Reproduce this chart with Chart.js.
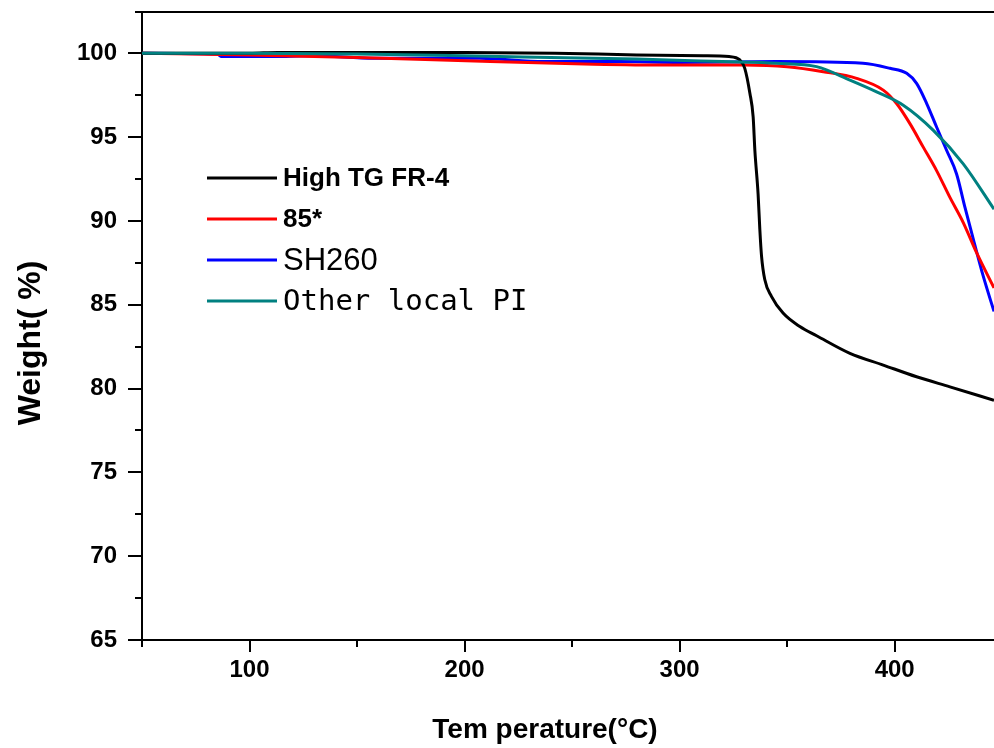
<!DOCTYPE html>
<html>
<head>
<meta charset="utf-8">
<script src="https://cdn.jsdelivr.net/npm/chart.js@4.4.1/dist/chart.umd.min.js"></script>
<style>
    html, body { margin: 0; padding: 0; background: #fff; overflow: hidden; }
    #wrap { width: 994px; height: 748px; }
</style>
</head>
<body>
<div id="wrap"><canvas id="tgaChart" width="994" height="748"></canvas></div>
<script>
// series names / colours
const seriesNames = ['High TG FR-4', '85*', 'SH260', 'Other local PI'];
const seriesColors = ['#000000', '#ff0000', '#0000ff', '#008080'];

// High TG FR-4 (black)
const fr4Temp   = [50, 100, 113, 200, 242, 280, 311, 323, 328, 330.3, 332.7, 334.2, 335, 336.5, 337.3, 338.1, 339.6, 342.7, 348.1, 355.9, 363.7, 379.2, 394.7, 410.2, 425.7, 446.2];
const fr4Weight = [100, 100, 100.05, 100.05, 100.0, 99.9, 99.85, 99.8, 99.6, 99.1, 97.6, 96.2, 94.2, 91.6, 89.5, 87.9, 86.5, 85.5, 84.5, 83.7, 83.15, 82.1, 81.4, 80.7, 80.1, 79.3];

// 85* (red)
const s85Temp   = [50, 100, 150, 212, 260, 294, 330, 350, 366.8, 382.3, 394.7, 400.9, 407.1, 413.3, 419.5, 425.7, 431.9, 438.1, 446.2];
const s85Weight = [100, 99.9, 99.75, 99.5, 99.35, 99.3, 99.3, 99.2, 98.9, 98.5, 97.8, 97.0, 95.8, 94.4, 93.0, 91.4, 89.9, 88.1, 86.0];

// SH260 (blue)
const shTemp   = [50, 85, 87, 110, 130, 158, 207, 237, 272, 300, 345, 385.3, 397.8, 405.6, 410.2, 414.9, 419.5, 424.2, 428.8, 432.7, 436.6, 441.2, 446.2];
const shWeight = [100, 99.95, 99.8, 99.8, 99.85, 99.7, 99.7, 99.5, 99.5, 99.45, 99.5, 99.4, 99.1, 98.8, 98.2, 97.0, 95.6, 94.2, 92.8, 90.8, 88.9, 86.7, 84.6];

// Other local PI (teal)
const piTemp   = [50, 100, 150, 200, 240, 280, 320, 345, 363.7, 379.2, 391.6, 404, 418, 431.9, 446.2];
const piWeight = [100, 100, 99.95, 99.85, 99.75, 99.65, 99.5, 99.4, 99.2, 98.4, 97.7, 96.9, 95.4, 93.4, 90.7];

// ticks
const xMajorTicks = [100, 200, 300, 400];
const xMinorTicks = [50, 150, 250, 350];
const yMajorTicks = [65, 70, 75, 80, 85, 90, 95, 100];
const yMinorTicks = [67.5, 72.5, 77.5, 82.5, 87.5, 92.5, 97.5];

const toPoints = (xs, ys) => xs.map((x, i) => ({ x: x, y: ys[i] }));
const allSeries = [
    toPoints(fr4Temp, fr4Weight),
    toPoints(s85Temp, s85Weight),
    toPoints(shTemp, shWeight),
    toPoints(piTemp, piWeight)
];
const drawOrder = [1, 2, 3, 0];

// minor ticks + top frame line
const framePlugin = {
    id: 'frame',
    afterDraw(chart) {
        const { ctx, chartArea, scales } = chart;
        ctx.save();
        ctx.strokeStyle = '#000';
        ctx.lineWidth = 2;
        ctx.beginPath();
        ctx.moveTo(chartArea.left - 7, chartArea.top);
        ctx.lineTo(chartArea.right, chartArea.top);
        yMinorTicks.forEach(v => {
            const py = Math.round(scales.y.getPixelForValue(v));
            ctx.moveTo(chartArea.left - 7, py);
            ctx.lineTo(chartArea.left, py);
        });
        xMinorTicks.forEach(v => {
            const px = Math.round(scales.x.getPixelForValue(v));
            ctx.moveTo(px, chartArea.bottom);
            ctx.lineTo(px, chartArea.bottom + 7);
        });
        ctx.stroke();
        ctx.restore();
    }
};

// axis titles
const titlePlugin = {
    id: 'axisTitles',
    afterDraw(chart) {
        const { ctx } = chart;
        ctx.save();
        ctx.fillStyle = '#000';
        ctx.textAlign = 'center';
        ctx.textBaseline = 'middle';
        ctx.font = 'bold 28px "Liberation Sans", Arial, sans-serif';
        ctx.fillText('Tem perature(°C)', 545, 730);
        ctx.translate(31, 343);
        ctx.rotate(-Math.PI / 2);
        ctx.font = 'bold 32px "Liberation Sans", Arial, sans-serif';
        ctx.fillText('Weight( %)', 0, 0);
        ctx.restore();
    }
};

// legend inside the plot
const legendFonts = [
    'bold 26px "Liberation Sans", Arial, sans-serif',
    'bold 26px "Liberation Sans", Arial, sans-serif',
    '31px "Liberation Sans", Arial, sans-serif',
    '29px "DejaVu Sans Mono", monospace'
];
const legendPlugin = {
    id: 'innerLegend',
    afterDraw(chart) {
        const { ctx } = chart;
        ctx.save();
        ctx.textBaseline = 'middle';
        ctx.textAlign = 'left';
        seriesNames.forEach((name, i) => {
            const y = 178 + i * 41;
            ctx.strokeStyle = seriesColors[i];
            ctx.lineWidth = 3;
            ctx.beginPath();
            ctx.moveTo(207, y);
            ctx.lineTo(277, y);
            ctx.stroke();
            ctx.fillStyle = '#000';
            ctx.font = legendFonts[i];
            ctx.fillText(name, 283, y + 1);
        });
        ctx.restore();
    }
};

new Chart(document.getElementById('tgaChart'), {
    type: 'line',
    data: {
        datasets: allSeries.map((pts, i) => ({
            label: seriesNames[i],
            data: pts,
            borderColor: seriesColors[i],
            borderWidth: 3,
            pointRadius: 0,
            fill: false,
            cubicInterpolationMode: 'monotone',
            order: drawOrder[i]
        }))
    },
    options: {
        responsive: false,
        animation: false,
        layout: { padding: { top: 12, left: 0, right: 0, bottom: 0 } },
        plugins: { legend: { display: false }, tooltip: { enabled: false } },
        scales: {
            x: {
                type: 'linear',
                min: 50,
                max: 446.2,
                afterBuildTicks: (scale) => { scale.ticks = xMajorTicks.map(v => ({ value: v })); },
                afterFit: (scale) => {
                    scale.height = 108;
                    scale.paddingLeft = 0;
                    scale.paddingRight = 0;
                },
                ticks: {
                    color: '#000',
                    padding: 4,
                    maxRotation: 0,
                    font: { family: '"Liberation Sans", Arial, sans-serif', size: 24, weight: 'bold' }
                },
                grid: { drawOnChartArea: false, drawTicks: true, tickLength: 12, color: '#000', lineWidth: 2 },
                border: { display: true, color: '#000', width: 2 }
            },
            y: {
                min: 65,
                max: 102.46,
                afterBuildTicks: (scale) => { scale.ticks = yMajorTicks.map(v => ({ value: v })); },
                afterFit: (scale) => {
                    scale.width = 142;
                    scale.paddingTop = 0;
                    scale.paddingBottom = 0;
                },
                ticks: {
                    color: '#000',
                    padding: 11,
                    font: { family: '"Liberation Sans", Arial, sans-serif', size: 24, weight: 'bold' }
                },
                grid: { drawOnChartArea: false, drawTicks: true, tickLength: 14, color: '#000', lineWidth: 2 },
                border: { display: true, color: '#000', width: 2 }
            }
        }
    },
    plugins: [framePlugin, titlePlugin, legendPlugin]
});
</script>
</body>
</html>
